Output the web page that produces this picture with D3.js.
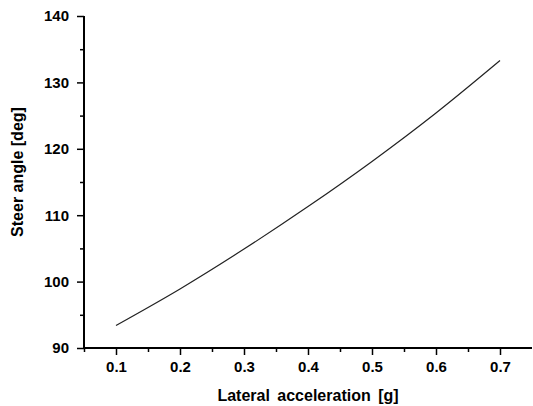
<!DOCTYPE html>
<html>
<head>
<meta charset="utf-8">
<script src="https://cdn.jsdelivr.net/npm/d3@7"></script>
<style>
  body { margin: 0; background: #fff; }
  text { font-family: "Liberation Sans", Arial, sans-serif; font-weight: bold; fill: #000; }
</style>
</head>
<body>
<div id="chart"></div>
<script>
// Data
const accel = [0.1, 0.2, 0.3, 0.4, 0.5, 0.6, 0.7];
const steer = [93.4, 98.9, 104.9, 111.3, 118.1, 125.4, 133.3];
const xTicks = [0.1, 0.2, 0.3, 0.4, 0.5, 0.6, 0.7];
const yTicks = [90, 100, 110, 120, 130, 140];

const W = 533, H = 406;
const margin = { top: 16, right: 1, bottom: 58, left: 84 };
const width = W - margin.left - margin.right;
const height = H - margin.top - margin.bottom;

const svg = d3.select("#chart").append("svg")
    .attr("width", W)
    .attr("height", H);

const g = svg.append("g")
    .attr("transform", `translate(${margin.left},${margin.top})`);

const x = d3.scaleLinear().domain([0.05, 0.75]).range([0, width]);
const y = d3.scaleLinear().domain([90, 140]).range([height, 0]);

// minor ticks
const xMinor = d3.range(0.05, 0.75, 0.1).map(v => +v.toFixed(2));
const yMinor = d3.range(95, 140, 10);

g.append("g")
    .attr("transform", `translate(0,${height})`)
    .call(d3.axisBottom(x).tickValues(xMinor).tickSize(4).tickFormat(""))
    .call(a => a.select(".domain").remove())
    .selectAll("line").attr("stroke-width", 1.5);

g.append("g")
    .call(d3.axisLeft(y).tickValues(yMinor).tickSize(4).tickFormat(""))
    .call(a => a.select(".domain").remove())
    .selectAll("line").attr("stroke-width", 1.5);

// major axes
const xAxis = g.append("g")
    .attr("transform", `translate(0,${height})`)
    .call(d3.axisBottom(x).tickValues(xTicks).tickSize(7).tickSizeOuter(0).tickFormat(d3.format(".1f")).tickPadding(6));
xAxis.select(".domain").attr("stroke-width", 2).attr("d", `M0,0H${width}`);
xAxis.selectAll("line").attr("stroke-width", 1.5);
xAxis.selectAll("text").style("font-size", "15px");

const yAxis = g.append("g")
    .call(d3.axisLeft(y).tickValues(yTicks).tickSize(7).tickSizeOuter(0).tickPadding(8));
yAxis.select(".domain").attr("stroke-width", 2).attr("d", `M0,${height}V0`);
yAxis.selectAll("line").attr("stroke-width", 1.5);
yAxis.selectAll("text").style("font-size", "15px");

// curve
const pts = accel.map((a, i) => [a, steer[i]]);
g.append("path")
    .datum(pts)
    .attr("fill", "none")
    .attr("stroke", "#222")
    .attr("stroke-width", 1.2)
    .attr("d", d3.line().x(d => x(d[0])).y(d => y(d[1])).curve(d3.curveCatmullRom));

// axis titles
svg.append("text")
    .attr("x", margin.left + width / 2)
    .attr("y", 401)
    .attr("text-anchor", "middle")
    .style("font-size", "16px")
    .style("word-spacing", "3px")
    .text("Lateral acceleration [g]");

svg.append("text")
    .attr("transform", `translate(23,172) rotate(-90)`)
    .attr("text-anchor", "middle")
    .style("font-size", "16px")
    .text("Steer angle [deg]");
</script>
</body>
</html>
